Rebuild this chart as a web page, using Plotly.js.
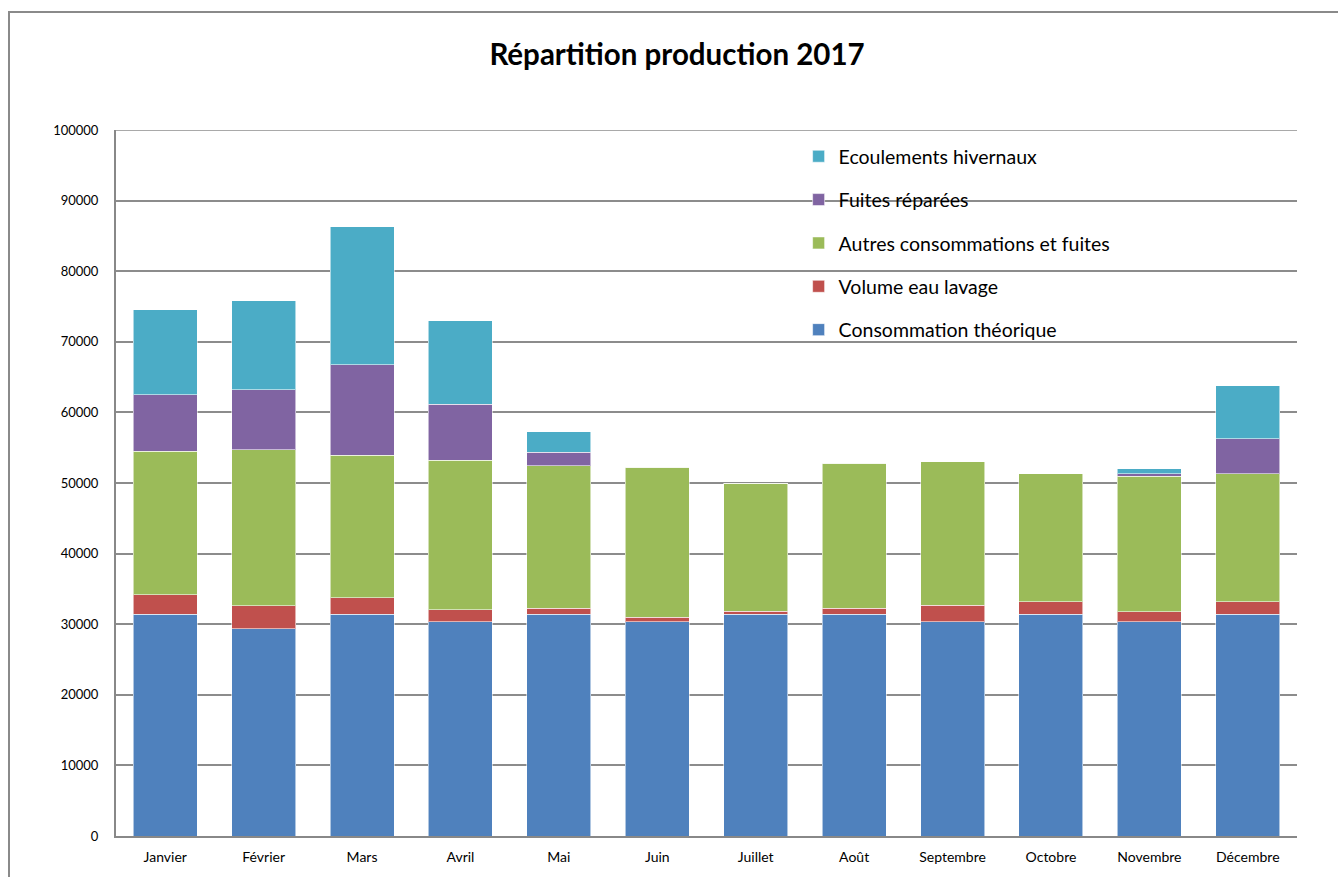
<!DOCTYPE html>
<html>
<head>
<meta charset="utf-8">
<script src="https://cdn.plot.ly/plotly-3.0.1.min.js"></script>
<style>
html,body{margin:0;padding:0;overflow:hidden;background:#fff;width:1338px;height:877px;}
#frame{position:absolute;left:8px;top:11px;width:2000px;height:2000px;border-left:2px solid #8a8a8a;border-top:2px solid #8a8a8a;pointer-events:none;z-index:2;}
#chart{position:absolute;left:0;top:0;width:1338px;height:877px;}
</style>
</head>
<body>
<div id="chart"></div>
<div id="frame"></div>
<script>
const months = ["Janvier","Février","Mars","Avril","Mai","Juin","Juillet","Août","Septembre","Octobre","Novembre","Décembre"];
const consommationTheorique = [31400,29390,31410,30330,31400,30330,31400,31400,30330,31400,30330,31400];
const volumeEauLavage = [2800,3200,2310,1690,850,670,430,850,2360,1750,1420,1750];
const autresConsommations = [20270,22150,20210,21220,20190,21200,18120,20530,20350,18150,19210,18190];
const fuitesReparees = [8020,8490,12830,7920,1930,0,0,0,0,0,380,4950];
const ecoulementsHivernaux = [12060,12600,19520,11840,2880,0,0,0,0,0,660,7460];
const yTicks = [0,10000,20000,30000,40000,50000,60000,70000,80000,90000,100000];

const seriesNames = ["Consommation théorique","Volume eau lavage","Autres consommations et fuites","Fuites réparées","Ecoulements hivernaux"];
const seriesValues = [consommationTheorique, volumeEauLavage, autresConsommations, fuitesReparees, ecoulementsHivernaux];
const colors = ["#4F81BD","#C0504D","#9BBB59","#8064A2","#4BACC6"];

const traces = seriesNames.map((n,i)=>({
  type:'bar', name:n, x:months, y:seriesValues[i],
  legendgroup:'g'+i, legendrank:(5-i)*10,
  marker:{color:colors[i], line:{color:'rgba(255,255,255,0.55)', width:1}},
  hoverinfo:'x+y+name'
}));

const layout = {
  width:1338, height:877,
  margin:{l:116, r:41, t:130, b:41},
  paper_bgcolor:'#fff', plot_bgcolor:'#fff',
  barmode:'stack', bargap:0.35,
  font:{family:'Lato, "Open Sans", sans-serif', color:'#000'},
  title:{text:'<b>Répartition production 2017</b>', x:0.506, xanchor:'center', y:0.938, yanchor:'middle', font:{size:29.5, family:'Lato, "Open Sans", sans-serif', color:'#000'}},
  xaxis:{showline:true, linecolor:'#888', linewidth:2, showgrid:false, ticks:'', tickfont:{size:14}, ticklabelstandoff:7, fixedrange:true},
  yaxis:{range:[0,100000], tickvals:yTicks, ticktext:yTicks.map(String), showline:true, linecolor:'#888', linewidth:2,
         gridcolor:'#8c8c8c', gridwidth:1.5, zeroline:false, ticks:'', tickfont:{size:13}, ticklabelstandoff:13, fixedrange:true},
  showlegend:true,
  legend:{x:0.578, y:0.99, xanchor:'left', yanchor:'top', traceorder:'grouped', tracegroupgap:15,
          font:{size:19.5}, bgcolor:'rgba(0,0,0,0)', itemwidth:30, itemclick:false},
  shapes:[{type:'line', xref:'paper', yref:'y', x0:0, x1:1, y0:100000, y1:100000, line:{color:'#8c8c8c', width:1.5}}]
};
Plotly.newPlot('chart', traces, layout, {displayModeBar:false, staticPlot:false});
</script>
</body>
</html>
